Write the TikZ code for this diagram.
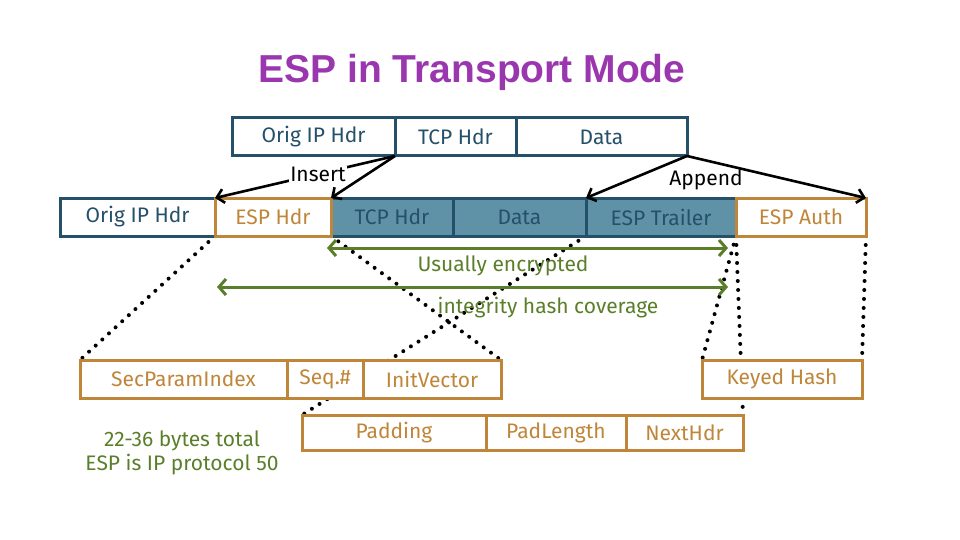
\documentclass[tikz,border=0pt]{standalone}
\usepackage{fontspec}
\setmainfont{Fira Sans}
\newfontfamily\titlefont{Liberation Sans}
\usetikzlibrary{arrows.meta, positioning, calc, backgrounds}
\definecolor{ipblue}{HTML}{25506A}
\definecolor{encfill}{HTML}{5F91A7}
\definecolor{esporange}{HTML}{BF8639}
\definecolor{notegreen}{HTML}{5A7E2A}
\definecolor{titlepurple}{HTML}{9A37AE}

\begin{document}
\begin{tikzpicture}[
            x=1pt, y=-1pt,
            field/.style={
                    rectangle, draw, fill=white, line width=3pt,
                    minimum height=38pt, inner sep=0pt, outer sep=0pt,
                    font=\fontsize{21}{23}\selectfont
                },
            ipfield/.style={field, draw=ipblue, text=ipblue},
            encfield/.style={field, draw=ipblue, fill=encfill, text=ipblue},
            espfield/.style={field, draw=esporange, text=esporange},
            cover/.style={{Straight Barb[length=7pt,width=16pt]}-{Straight Barb[length=7pt,width=16pt]},
                    line width=3pt, draw=notegreen},
            move/.style={-{Straight Barb[length=7pt,width=14pt]}, line width=2.6pt},
            dots/.style={line width=4pt, line cap=round, dash pattern=on 0pt off 9pt},
            note/.style={text=notegreen, font=\fontsize{21}{24}\selectfont},
            tag/.style={font=\fontsize{21}{23}\selectfont, inner sep=1pt}
        ]
        \useasboundingbox (0,0) rectangle (960,540);

        \node[font=\titlefont\bfseries\fontsize{39}{44}\selectfont, text=titlepurple] (title) at (472,72) {ESP in Transport Mode};

        % original packet
        \node[ipfield, minimum width=163pt, anchor=north west] (origA) at (232,118) {Orig IP Hdr};
        \node[ipfield, minimum width=121pt, right=0pt of origA] (tcpA) {TCP Hdr};
        \node[ipfield, minimum width=171pt, right=0pt of tcpA] (dataA) {Data};

        % packet with ESP
        \node[ipfield, minimum width=155pt, anchor=north west] (origB) at (60,198) {Orig IP Hdr};
        \node[encfield, minimum width=122pt, right=116pt of origB] (tcpB) {TCP Hdr};
        \node[encfield, minimum width=133pt, right=0pt of tcpB] (dataB) {Data};
        \node[encfield, minimum width=150pt, right=0pt of dataB] (trail) {ESP Trailer};
        \node[espfield, minimum width=116pt, right=0pt of origB] (esph) {ESP Hdr};
        \node[espfield, minimum width=130pt, right=0pt of trail] (auth) {ESP Auth};

        % ESP fields
        \node[espfield, minimum width=207pt, anchor=north west] (spi) at (80,360) {SecParamIndex};
        \node[espfield, minimum width=76pt, right=0pt of spi] (seq) {Seq.\#};
        \node[espfield, minimum width=138pt, right=0pt of seq] (iv) {InitVector};
        \node[espfield, minimum width=160pt, anchor=north west] (khash) at (702,360) {Keyed Hash};

        \node[espfield, minimum width=184pt, minimum height=35pt, anchor=north west] (pad) at (302,415) {Padding};
        \node[espfield, minimum width=140pt, minimum height=35pt, right=0pt of pad] (padlen) {PadLength};
        \node[espfield, minimum width=117pt, minimum height=35pt, right=0pt of padlen] (nxt) {NextHdr};

        \begin{scope}[on background layer]
            \draw[dots] (esph.south west) -- (spi.north west);
            \draw[dots] (esph.south east) -- (iv.north east);
            \draw[dots] (trail.south west) -- (pad.north west);
            \draw[dots] (trail.south east) -- (nxt.north east);
            \draw[dots] (auth.south west) -- (khash.north west);
            \draw[dots] (auth.south east) -- (khash.north east);
        \end{scope}

        \draw[move] (tcpA.south west) -- (esph.north west);
        \draw[move] (tcpA.south west) -- (esph.north east);
        \node[tag, fill=white] (ins) at (318,174) {Insert};

        \draw[move] (dataA.south east) -- (trail.north west);
        \draw[move] (dataA.south east) -- (auth.north east);
        \node[tag] (app) at (706,180) {Append};

        \draw[cover] ($(tcpB.south west)+(-4,12)$) -- ($(trail.south east)+(-8,12)$);
        \node[note] (enclbl) at (503,266) {Usually encrypted};
        \draw[cover] ($(origB.south east)+(2,51)$) -- ($(trail.south east)+(-8,51)$);
        \node[note] (hashlbl) at (548,308) {integrity hash coverage};

        \node[note, align=center] (total) at (182,453) {22-36 bytes total\\ESP is IP protocol 50};
    \end{tikzpicture}
\end{document}
